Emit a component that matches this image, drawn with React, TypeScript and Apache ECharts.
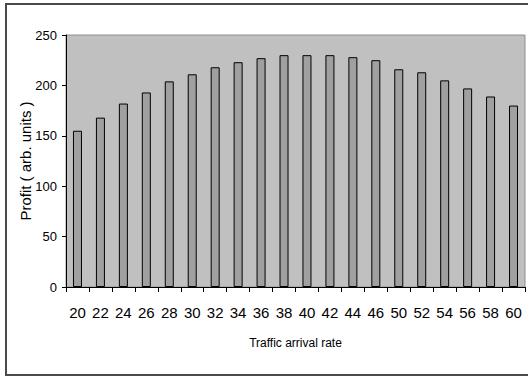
import React, { useEffect, useRef } from "react";
import * as echarts from "echarts";

// Traffic arrival rates (48 is not sampled) and the profit at each rate
const arrivalRates = [
  "20", "22", "24", "26", "28", "30", "32", "34", "36", "38",
  "40", "42", "44", "46", "50", "52", "54", "56", "58", "60",
];
const profit = [
  155, 168, 182, 193, 204, 211, 218, 223, 227, 230,
  230, 230, 228, 225, 216, 213, 205, 197, 189, 180,
];
const yTicks = { min: 0, max: 250, interval: 50 };

const sans = "'Liberation Sans', Arial, sans-serif";

export default function App() {
  const ref = useRef<HTMLDivElement>(null);

  useEffect(() => {
    if (!ref.current) return;
    const chart = echarts.init(ref.current, undefined, { renderer: "svg" });
    chart.setOption({
      animation: false,
      backgroundColor: "#ffffff",
      graphic: [
        {
          type: "rect",
          shape: { x: 6, y: 4, width: 560, height: 371 },
          style: { fill: "none", stroke: "#4a4a4a", lineWidth: 2 },
          silent: true,
        },
      ],
      grid: {
        left: 66,
        top: 35,
        right: 3,
        bottom: 93,
        show: true,
        backgroundColor: "#c0c0c0",
        borderColor: "#8e8e8e",
        borderWidth: 1,
      },
      xAxis: {
        type: "category",
        data: arrivalRates,
        boundaryGap: true,
        name: "Traffic arrival rate",
        nameLocation: "middle",
        nameGap: 50,
        nameMoveOverlap: false,
        nameTextStyle: { fontFamily: sans, fontSize: 12, color: "#000", verticalAlign: "top" },
        axisLine: { lineStyle: { color: "#000", width: 1 } },
        axisTick: { show: true, length: 5, lineStyle: { color: "#000" } },
        axisLabel: {
          interval: 0,
          fontFamily: sans,
          fontSize: 15,
          color: "#000",
          margin: 18,
        },
        splitLine: { show: false },
      },
      yAxis: {
        type: "value",
        min: yTicks.min,
        max: yTicks.max,
        interval: yTicks.interval,
        name: "Profit ( arb. units )",
        nameLocation: "middle",
        nameRotate: 90,
        nameGap: 33,
        nameMoveOverlap: false,
        nameTextStyle: { fontFamily: sans, fontSize: 15, color: "#000" },
        axisLine: { show: true, lineStyle: { color: "#000", width: 1 } },
        axisTick: { show: true, length: 4, lineStyle: { color: "#000" } },
        axisLabel: {
          fontFamily: sans,
          fontSize: 13,
          color: "#000",
          margin: 9,
        },
        splitLine: { show: false },
      },
      series: [
        {
          type: "bar",
          data: profit,
          barWidth: 9,
          itemStyle: { color: "#a0a0a0", borderColor: "#000", borderWidth: 1 },
        },
      ],
    });
    return () => chart.dispose();
  }, []);

  return (
    <div
      ref={ref}
      style={{ position: "fixed", left: 0, top: 0, width: 528, height: 380 }}
    />
  );
}
